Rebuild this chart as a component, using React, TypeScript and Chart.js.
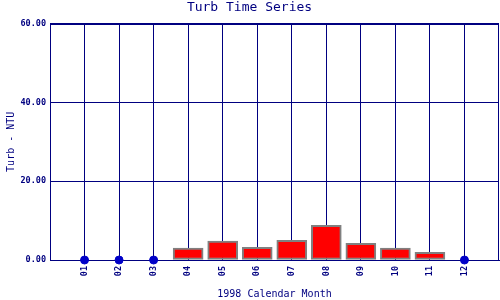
import React, { useEffect, useRef } from "react";
import { Chart, registerables } from "chart.js";

Chart.register(...registerables);

const months = ["01", "02", "03", "04", "05", "06", "07", "08", "09", "10", "11", "12"];
const turbValues = [0, 0, 0, 3.0, 4.8, 3.2, 5.0, 8.8, 4.2, 3.0, 1.95, 0];
const yTickValues = [0, 20, 40, 60];

const NAVY = "#000080";
const MONO = "'DejaVu Sans Mono', 'Liberation Mono', monospace";

const borderPlugin = {
  id: "plotBorder",
  beforeDatasetsDraw(chart: any) {
    const { ctx, chartArea } = chart;
    ctx.save();
    ctx.strokeStyle = NAVY;
    ctx.lineWidth = 1;
    ctx.strokeRect(
      Math.round(chartArea.left) + 0.5,
      Math.round(chartArea.top) + 0.5,
      Math.round(chartArea.right - chartArea.left) - 1,
      Math.round(chartArea.bottom - chartArea.top)
    );
    ctx.restore();
  },
};

export default function App() {
  const ref = useRef<HTMLCanvasElement>(null);

  useEffect(() => {
    if (!ref.current) return;
    const points = months.map((m, i) => ({ x: i + 1, y: turbValues[i] }));
    const chart = new Chart(ref.current, {
      type: "bar",
      data: {
        datasets: [
          {
            type: "bar",
            data: points.filter((p) => p.y > 0),
            backgroundColor: "#ff0000",
            borderColor: "#808080",
            borderWidth: 2,
            borderSkipped: false,
            barThickness: 30,
          } as any,
          {
            type: "scatter",
            data: points.filter((p) => p.y === 0),
            backgroundColor: "#0000c8",
            borderColor: "#0000c8",
            pointRadius: 4,
            pointHoverRadius: 4,
            clip: false,
          } as any,
        ],
      },
      options: {
        responsive: false,
        animation: false,
        layout: { autoPadding: false, padding: { top: 0, right: 1, bottom: 0, left: 0 } },
        plugins: {
          legend: { display: false },
          tooltip: { enabled: false },
          title: {
            display: true,
            text: "Turb Time Series",
            color: NAVY,
            font: { family: MONO, size: 13, weight: "normal" },
            padding: { top: 0, bottom: 8 },
          },
        },
        scales: {
          x: {
            type: "linear",
            min: 0,
            max: months.length + 1,
            offset: false,
            afterBuildTicks: (axis: any) => {
              axis.ticks = months.map((_, i) => ({ value: i + 1 }));
            },
            afterFit: (axis: any) => {
              axis.height = 40;
              axis.paddingLeft = 0;
              axis.paddingRight = 0;
            },
            grid: { color: NAVY, drawTicks: false, lineWidth: 1, offset: false },
            border: { display: true, color: NAVY },
            ticks: {
              color: NAVY,
              font: { family: MONO, size: 8.5, weight: "bold" },
              minRotation: 90,
              maxRotation: 90,
              padding: 6,
              autoSkip: false,
              callback: (v: any) => months[Number(v) - 1] ?? "",
            },
            title: {
              display: true,
              text: "1998 Calendar Month",
              color: NAVY,
              font: { family: MONO, size: 10, weight: "normal" },
              padding: { top: 7, bottom: 0 },
            },
          },
          y: {
            min: 0,
            max: 60,
            afterBuildTicks: (axis: any) => {
              axis.ticks = yTickValues.map((v) => ({ value: v }));
            },
            afterFit: (axis: any) => {
              axis.width = 50;
              axis.paddingTop = 0;
              axis.paddingBottom = 0;
            },
            grid: { color: NAVY, drawTicks: false, lineWidth: 1 },
            border: { display: true, color: NAVY },
            ticks: {
              color: NAVY,
              font: { family: MONO, size: 8.5, weight: "bold" },
              padding: 4,
              callback: (v: any) => Number(v).toFixed(2),
            },
            title: {
              display: true,
              text: "Turb - NTU",
              color: NAVY,
              font: { family: MONO, size: 10, weight: "normal" },
              padding: { top: 5, bottom: 4 },
            },
          },
        },
      } as any,
      plugins: [borderPlugin],
    });
    return () => chart.destroy();
  }, []);

  return (
    <canvas
      ref={ref}
      width={500}
      height={300}
      style={{ position: "absolute", left: 0, top: 0, background: "#fff" }}
    />
  );
}
